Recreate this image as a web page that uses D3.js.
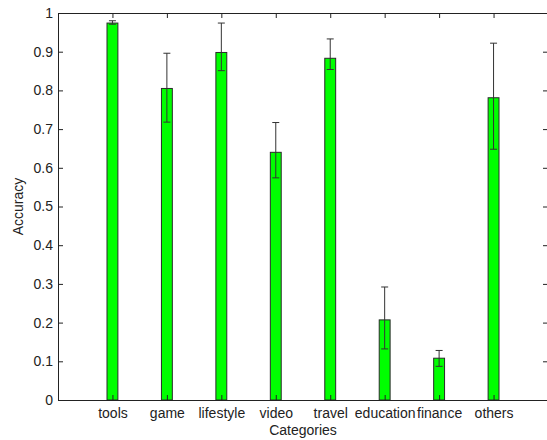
<!DOCTYPE html>
<html>
<head>
<meta charset="utf-8">
<script src="https://cdn.jsdelivr.net/npm/d3@7"></script>
<style>
  body { margin: 0; background: #fff; }
  svg { display: block; font-family: "Liberation Sans", Arial, sans-serif; }
</style>
</head>
<body>
<div id="chart"></div>
<script>
// data
const categories = ['tools', 'game', 'lifestyle', 'video', 'travel', 'education', 'finance', 'others'];
const accuracy   = [0.974, 0.805, 0.898, 0.640, 0.883, 0.207, 0.108, 0.781];
const err_upper  = [0.006, 0.091, 0.076, 0.077, 0.050, 0.085, 0.020, 0.141];
const err_lower  = [0.003, 0.087, 0.047, 0.066, 0.029, 0.075, 0.021, 0.133];
const y_ticks    = [0, 0.1, 0.2, 0.3, 0.4, 0.5, 0.6, 0.7, 0.8, 0.9, 1];

const W = 547, H = 440;
const margin = {top: 13, bottom: 40, left: 58, right: -1};
const width = W - margin.left - margin.right;
const height = H - margin.top - margin.bottom;

const data = categories.map((c, i) => ({
   name: c, pos: i + 1, value: accuracy[i], up: err_upper[i], lo: err_lower[i]
}));

const svg = d3.select('#chart')
   .append('svg')
   .attr('width', W)
   .attr('height', H);

const chart = svg.append('g')
   .attr('transform', `translate(${margin.left}, ${margin.top})`);

// matlab style: x from 0 to n+1
const x_scale = d3.scaleLinear()
   .domain([0, categories.length + 1])
   .range([0, width]);

const y_scale = d3.scaleLinear()
   .domain([0, 1])
   .range([height, 0]);

const bar_w = (x_scale(1) - x_scale(0)) * 0.2;

// bars
chart.append('g')
   .selectAll('rect')
   .data(data)
   .join('rect')
   .attr('x', d => x_scale(d.pos) - bar_w / 2)
   .attr('y', d => y_scale(d.value))
   .attr('width', bar_w)
   .attr('height', d => y_scale(0) - y_scale(d.value))
   .style('fill', '#00ff00')
   .style('stroke', '#2a2a2a')
   .style('stroke-width', 1);

// error bars
const eb = chart.append('g')
   .attr('stroke', '#333')
   .attr('stroke-width', 1)
   .selectAll('g')
   .data(data)
   .join('g');

eb.append('line')
   .attr('x1', d => x_scale(d.pos))
   .attr('x2', d => x_scale(d.pos))
   .attr('y1', d => y_scale(d.value + d.up))
   .attr('y2', d => y_scale(d.value - d.lo));

const cap = 3.5;
eb.append('line')
   .attr('x1', d => x_scale(d.pos) - cap)
   .attr('x2', d => x_scale(d.pos) + cap)
   .attr('y1', d => y_scale(d.value + d.up))
   .attr('y2', d => y_scale(d.value + d.up));

eb.append('line')
   .attr('x1', d => x_scale(d.pos) - cap)
   .attr('x2', d => x_scale(d.pos) + cap)
   .attr('y1', d => y_scale(d.value - d.lo))
   .attr('y2', d => y_scale(d.value - d.lo));

// axes, ticks pointing inward
const tick_pos = data.map(d => d.pos);

const x_axis = d3.axisBottom(x_scale)
   .tickValues(tick_pos)
   .tickFormat(d => categories[d - 1])
   .tickSizeInner(-5)
   .tickSizeOuter(0)
   .tickPadding(8);

const x_top = d3.axisTop(x_scale)
   .tickValues(tick_pos)
   .tickFormat('')
   .tickSizeInner(-5)
   .tickSizeOuter(0);

const y_axis = d3.axisLeft(y_scale)
   .tickValues(y_ticks)
   .tickFormat(d3.format('~g'))
   .tickSizeInner(-5)
   .tickSizeOuter(0)
   .tickPadding(5);

const y_right = d3.axisRight(y_scale)
   .tickValues(y_ticks)
   .tickFormat('')
   .tickSizeInner(-5)
   .tickSizeOuter(0);

function style_axis(g) {
   g.selectAll('path, line').attr('stroke', '#222');
   g.selectAll('text')
      .attr('fill', '#222')
      .style('font-size', '14px')
      .style('font-family', '"Liberation Sans", Arial, sans-serif');
}

chart.append('g')
   .attr('transform', `translate(0, ${height})`)
   .call(x_axis)
   .call(style_axis);

chart.append('g')
   .call(x_top)
   .call(style_axis);

chart.append('g')
   .call(y_axis)
   .call(style_axis);

chart.append('g')
   .attr('transform', `translate(${width}, 0)`)
   .call(y_right)
   .call(style_axis);

// axis titles
svg.append('text')
   .attr('x', margin.left + x_scale(4.5))
   .attr('y', 434.5)
   .attr('text-anchor', 'middle')
   .style('font-size', '14px')
   .attr('fill', '#222')
   .text('Categories');

svg.append('text')
   .attr('transform', `translate(22.5, ${margin.top + height / 2}) rotate(-90)`)
   .attr('text-anchor', 'middle')
   .style('font-size', '14px')
   .attr('fill', '#222')
   .text('Accuracy');
</script>
</body>
</html>
